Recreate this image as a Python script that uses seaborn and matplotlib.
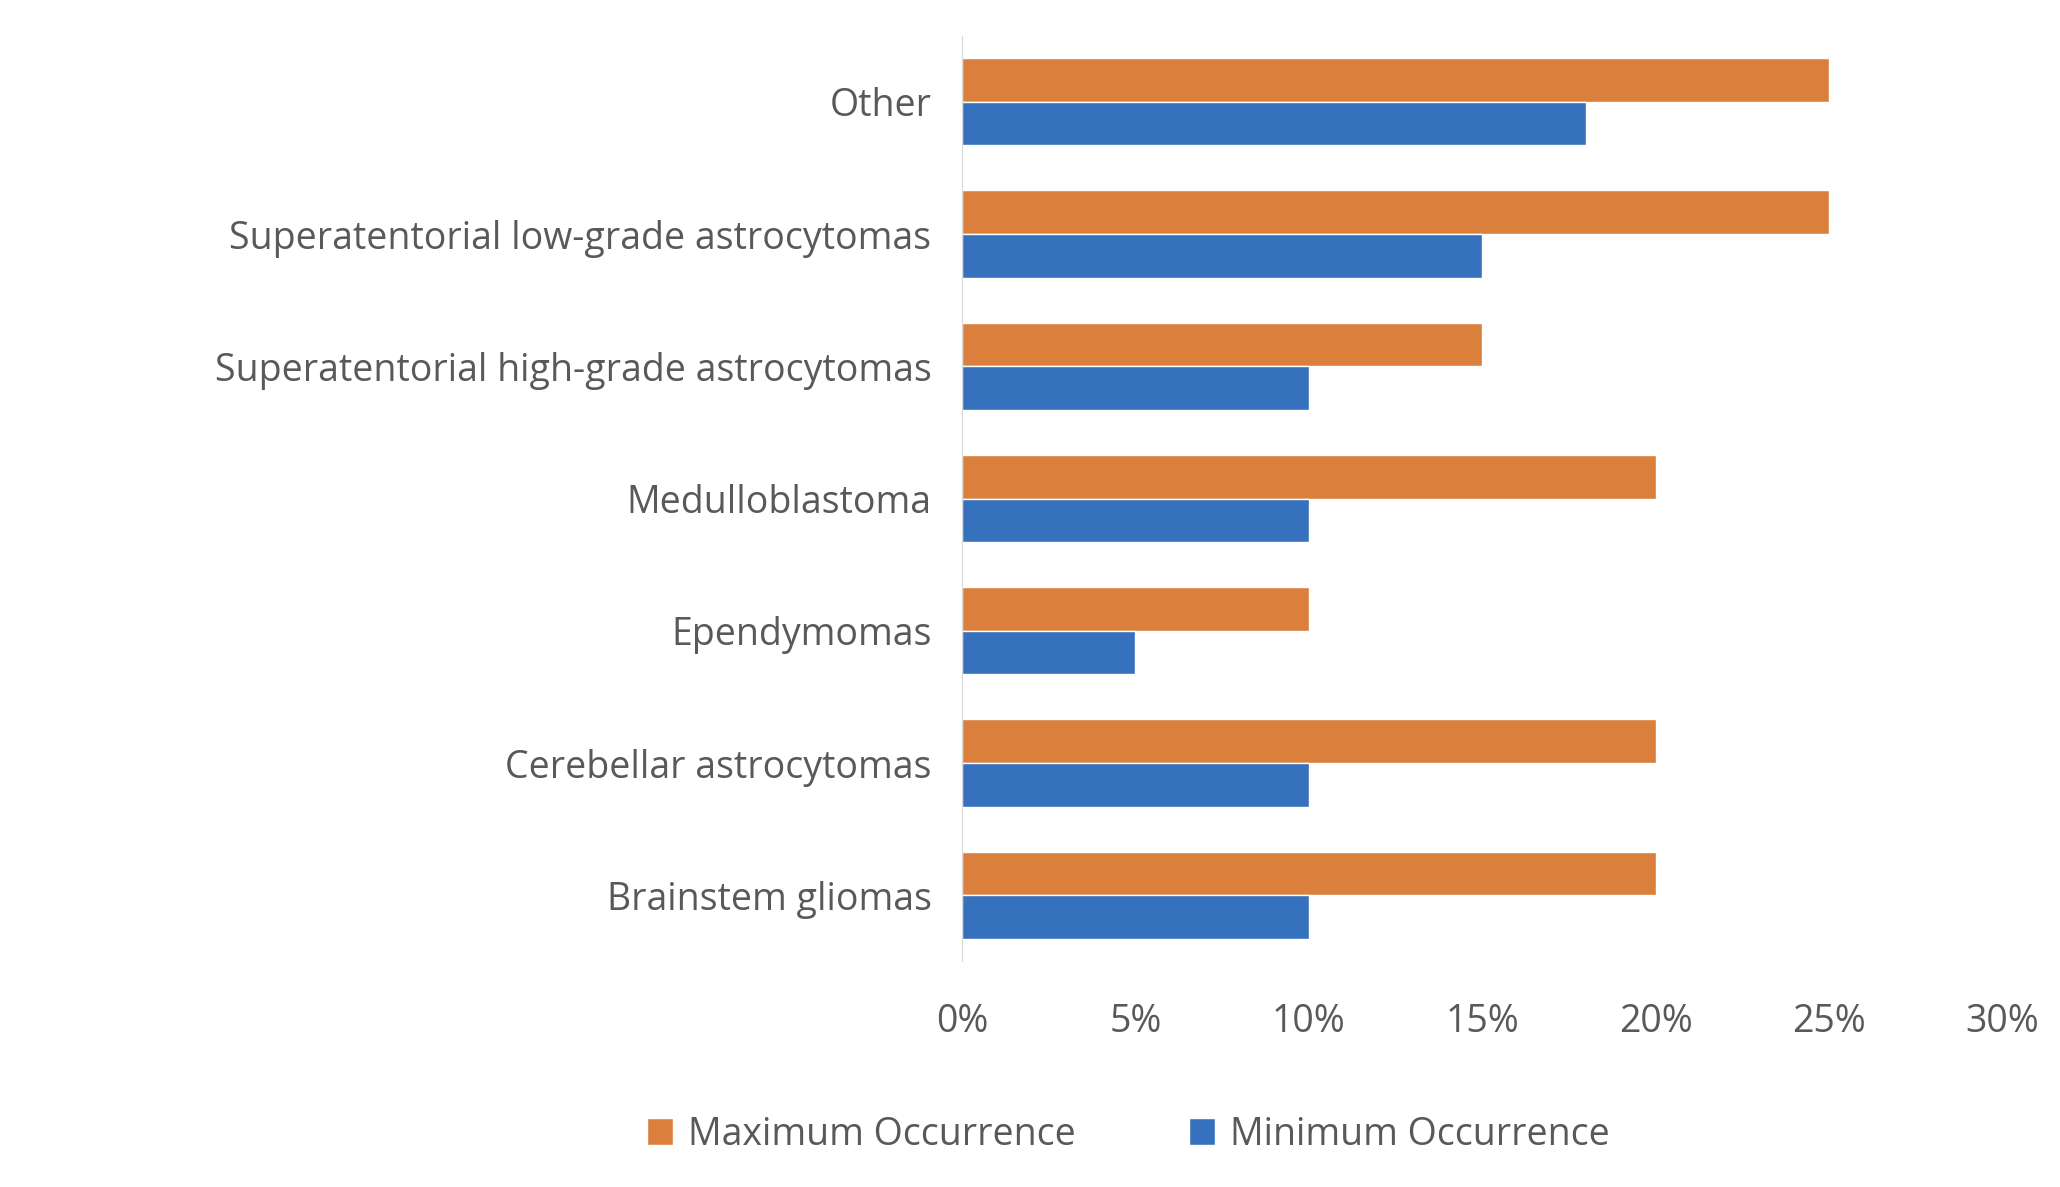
import pandas as pd
import seaborn as sns
import matplotlib.pyplot as plt
from matplotlib.ticker import PercentFormatter

categories = ["Other", "Superatentorial low-grade astrocytomas",
              "Superatentorial high-grade astrocytomas", "Medulloblastoma",
              "Ependymomas", "Cerebellar astrocytomas", "Brainstem gliomas"]
max_occ = [25, 25, 15, 20, 10, 20, 20]
min_occ = [18, 15, 10, 10, 5, 10, 10]

df = pd.DataFrame({
    "category": categories * 2,
    "value": max_occ + min_occ,
    "series": ["Maximum Occurrence"] * 7 + ["Minimum Occurrence"] * 7,
})

sns.set_style("white")
plt.rcParams["font.family"] = ["Open Sans", "DejaVu Sans"]

fig = plt.figure(figsize=(20.6, 11.87), dpi=100)
ax = fig.add_axes([0.467, 0.19, 0.505, 0.78])

sns.barplot(data=df, y="category", x="value", hue="series", orient="h",
            hue_order=["Maximum Occurrence", "Minimum Occurrence"],
            palette=["#F57C22", "#1F6ED4"], width=0.66, ax=ax)

ax.set_xlim(0, 30)
ax.set_xticks(range(0, 31, 5))
ax.xaxis.set_major_formatter(PercentFormatter(decimals=0))
ax.set_xlabel("")
ax.set_ylabel("")
for s in ["top", "right", "bottom"]:
    ax.spines[s].set_visible(False)
ax.spines["left"].set_color("#D9D9D9")
ax.tick_params(axis="both", length=0, labelsize=27, colors="#595959", pad=22)
ax.tick_params(axis="x", pad=30)

ax.legend(loc="upper center", bbox_to_anchor=(0.16, -0.13), ncol=2, frameon=False,
          fontsize=27, labelcolor="#595959", handlelength=0.7, handleheight=0.7,
          columnspacing=3, handletextpad=0.4)

fig.savefig("out.png", dpi=100)
